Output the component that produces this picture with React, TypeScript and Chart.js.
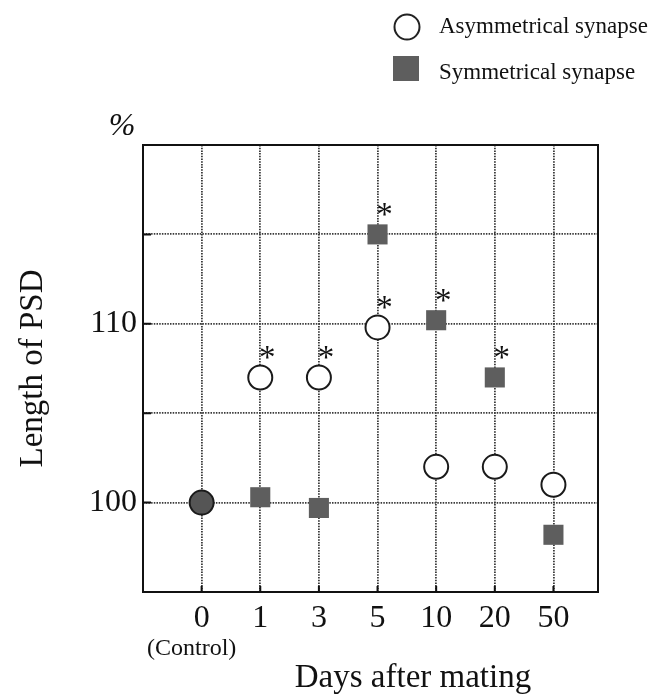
import { useEffect, useRef } from "react";
import { Chart, registerables } from "chart.js";

Chart.register(...registerables);

const dayLabels = ["0", "1", "3", "5", "10", "20", "50"];
const asymmetrical = [100, 107, 107, 109.8, 102, 102, 101];
const symmetrical = [100, 100.3, 99.7, 115, 110.2, 107, 98.2];
const asymSignificant = [false, true, true, true, false, false, false];
const symSignificant = [false, false, false, true, true, true, false];
const yGridValues = [95, 100, 105, 110, 115, 120];
const yTickLabels = [100, 110];

const SERIF = "'Liberation Serif', 'Times New Roman', serif";

const extrasPlugin = {
  id: "extras",
  afterDraw(chart: any) {
    const { ctx, chartArea: a, scales } = chart;
    const xs = scales.x;
    const ys = scales.y;
    ctx.save();
    // frame
    ctx.strokeStyle = "#111";
    ctx.lineWidth = 2;
    ctx.setLineDash([]);
    ctx.strokeRect(a.left, a.top, a.right - a.left, a.bottom - a.top);
    // inward ticks
    ctx.lineWidth = 2;
    ctx.beginPath();
    dayLabels.forEach((_, i) => {
      const px = xs.getPixelForValue(i);
      ctx.moveTo(px, a.bottom);
      ctx.lineTo(px, a.bottom - 6);
    });
    yGridValues.forEach((v) => {
      const py = ys.getPixelForValue(v);
      ctx.moveTo(a.left, py);
      ctx.lineTo(a.left + 8, py);
    });
    ctx.stroke();

    // asterisks
    ctx.fillStyle = "#111";
    ctx.font = `33px ${SERIF}`;
    ctx.textAlign = "center";
    ctx.textBaseline = "alphabetic";
    const star = (i: number, v: number) => {
      const px = xs.getPixelForValue(i) + 7;
      const py = ys.getPixelForValue(v) - 25;
      ctx.fillText("*", px, py + 16);
    };
    asymSignificant.forEach((s, i) => s && star(i, asymmetrical[i]));
    symSignificant.forEach((s, i) => s && star(i, symmetrical[i]));

    // (Control)
    ctx.font = `24px ${SERIF}`;
    ctx.fillText("(Control)", xs.getPixelForValue(0) - 10, 655);

    // x title
    ctx.font = `33px ${SERIF}`;
    ctx.fillText("Days after mating", 413, 687);

    // percent sign
    ctx.font = `italic 32px ${SERIF}`;
    ctx.fillText("%", 122, 135);

    // legend
    ctx.lineWidth = 2;
    ctx.strokeStyle = "#222";
    ctx.fillStyle = "#fff";
    ctx.beginPath();
    ctx.arc(407, 27, 12.5, 0, Math.PI * 2);
    ctx.fill();
    ctx.stroke();
    ctx.fillStyle = "#5e5e5e";
    ctx.fillRect(393, 56, 26, 25);
    ctx.fillStyle = "#111";
    ctx.textAlign = "left";
    ctx.font = `23px ${SERIF}`;
    ctx.fillText("Asymmetrical synapse", 439, 33);
    ctx.fillText("Symmetrical synapse", 439, 79);
    ctx.restore();
  },
};

export default function App() {
  const ref = useRef<HTMLCanvasElement | null>(null);
  useEffect(() => {
    if (!ref.current) return;
    const chart = new Chart(ref.current, {
      type: "scatter",
      data: {
        datasets: [
          {
            label: "Symmetrical synapse",
            data: symmetrical.map((v, i) => ({ x: i, y: v })),
            pointStyle: "rect",
            pointRadius: symmetrical.map((_, i) => (i === 0 ? 0 : 14.2)),
            backgroundColor: "#5e5e5e",
            borderColor: "#5e5e5e",
            borderWidth: 0,
            showLine: false,
          },
          {
            label: "Asymmetrical synapse",
            data: asymmetrical.map((v, i) => ({ x: i, y: v })),
            pointStyle: "circle",
            pointRadius: 12,
            backgroundColor: asymmetrical.map((_, i) => (i === 0 ? "#555" : "#fff")),
            borderColor: "#1a1a1a",
            borderWidth: 2,
            showLine: false,
          },
        ],
      },
      options: {
        animation: false,
        responsive: true,
        maintainAspectRatio: false,
        layout: { padding: { top: 145, right: 51, left: 0, bottom: 0 } },
        plugins: { legend: { display: false }, tooltip: { enabled: false } },
        scales: {
          x: {
            type: "linear",
            min: -1,
            max: 6.76,
            afterBuildTicks: (scale: any) => {
              scale.ticks = dayLabels.map((_, i) => ({ value: i }));
            },
            afterFit: (scale: any) => {
              scale.height = 102;
            },
            ticks: {
              autoSkip: false,
              maxRotation: 0,
              padding: 7,
              color: "#111",
              font: { family: SERIF, size: 32 },
              callback: (v: any) => dayLabels[v as number] ?? "",
            },
            grid: {
              color: "#3a3a3a",
              lineWidth: 1.8,
              drawTicks: false,
            },
            border: { display: false, dash: [1.5, 1.2] },
          },
          y: {
            type: "linear",
            min: 95,
            max: 120,
            afterBuildTicks: (scale: any) => {
              scale.ticks = yGridValues.map((v) => ({ value: v }));
            },
            afterFit: (scale: any) => {
              scale.width = 143;
            },
            ticks: {
              padding: 6,
              color: "#111",
              font: { family: SERIF, size: 32 },
              callback: (v: any) => (yTickLabels.includes(v) ? String(v) : ""),
            },
            grid: {
              color: "#3a3a3a",
              lineWidth: 1.8,
              drawTicks: false,
            },
            border: { display: false, dash: [1.5, 1.2] },
            title: {
              display: true,
              text: "Length of PSD",
              color: "#111",
              font: { family: SERIF, size: 33 },
              padding: { top: 14, bottom: 0 },
            },
          },
        },
      },
      plugins: [extrasPlugin],
    });
    return () => chart.destroy();
  }, []);
  return (
    <div style={{ position: "absolute", left: 0, top: 0, width: 649, height: 694, background: "#fff" }}>
      <canvas ref={ref} />
    </div>
  );
}
